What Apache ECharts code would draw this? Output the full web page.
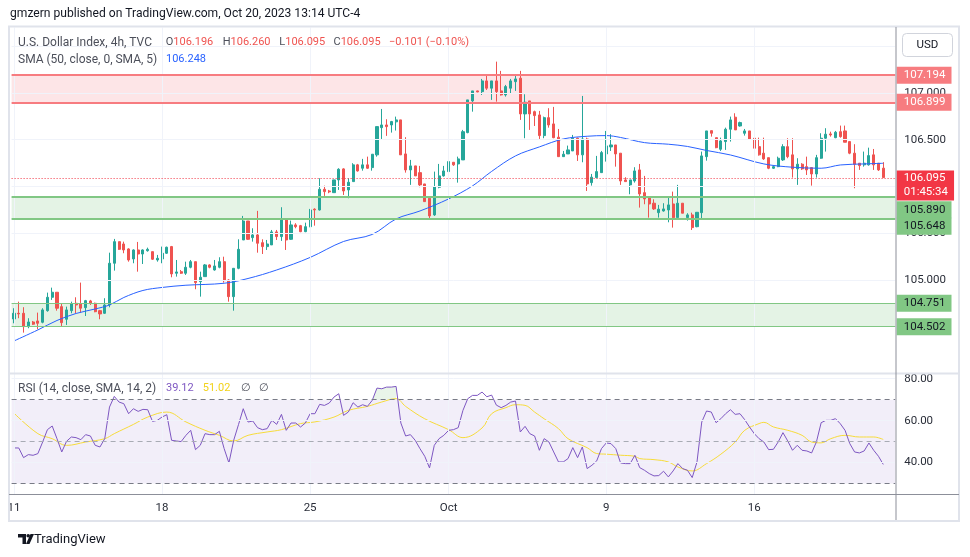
<!DOCTYPE html>
<html><head><meta charset="utf-8">
<script src="https://cdn.jsdelivr.net/npm/echarts/dist/echarts.min.js"></script>
<style>html,body{margin:0;padding:0;background:#fff;}#c{width:970px;height:557px;}</style>
</head><body><div id="c"></div>
<script>
// ---------- DATA ----------
const tickIndex = [0, 31, 62, 91, 124, 155];
const tickText = ['11', '18', '25', 'Oct', '9', '16'];
const categoryCount = 185;

// [open, close, low, high]
const candles = [
[104.583,104.644,104.537,104.698],[104.644,104.637,104.591,104.768],[104.644,104.501,104.437,104.709],[104.501,104.551,104.484,104.591],
[104.551,104.527,104.519,104.562],[104.562,104.537,104.473,104.651],[104.548,104.680,104.537,104.698],[104.672,104.815,104.661,104.865],
[104.815,104.869,104.787,104.918],[104.869,104.698,104.672,104.869],[104.715,104.544,104.508,104.744],[104.580,104.680,104.519,104.715],
[104.672,104.744,104.644,104.768],[104.751,104.733,104.644,104.815],[104.744,104.698,104.651,104.972],[104.704,104.779,104.615,104.787],
[104.776,104.751,104.733,104.787],[104.751,104.661,104.655,104.758],[104.672,104.637,104.580,104.680],[104.644,104.733,104.637,104.805],
[104.733,105.179,104.708,105.292],[105.179,105.410,105.100,105.439],[105.410,105.328,105.321,105.410],[105.385,105.321,105.286,105.410],
[105.332,105.214,105.196,105.339],[105.225,105.321,105.179,105.328],[105.321,105.278,105.089,105.407],[105.278,105.321,105.171,105.328],
[105.313,105.328,105.303,105.346],[105.303,105.222,105.214,105.303],[105.214,105.232,105.196,105.268],[105.225,105.286,105.179,105.357],
[105.286,105.350,105.278,105.357],[105.357,105.065,105.029,105.364],[105.072,105.086,105.036,105.214],[105.089,105.072,105.064,105.107],
[105.072,105.136,105.054,105.196],[105.136,105.196,105.125,105.214],[105.196,104.972,104.901,105.196],[104.982,105.029,104.822,105.089],
[105.036,105.161,105.036,105.171],[105.161,105.136,105.125,105.168],[105.107,105.150,105.100,105.214],[105.136,105.196,105.125,105.243],
[105.196,104.993,104.972,105.249],[105.000,104.822,104.768,105.008],[104.822,105.125,104.672,105.125],[105.125,105.328,105.115,105.435],
[105.428,105.631,105.428,105.685],[105.631,105.435,105.428,105.631],[105.453,105.482,105.410,105.553],[105.482,105.393,105.292,105.739],
[105.399,105.357,105.278,105.435],[105.357,105.385,105.321,105.428],[105.375,105.514,105.375,105.535],[105.514,105.464,105.428,105.535],
[105.464,105.642,105.418,105.778],[105.642,105.428,105.321,105.642],[105.435,105.589,105.428,105.635],[105.589,105.570,105.553,105.607],
[105.581,105.517,105.511,105.589],[105.517,105.570,105.511,105.613],[105.570,105.749,105.564,105.760],[105.757,105.749,105.581,105.767],
[105.749,105.970,105.742,106.088],[105.970,105.945,105.899,106.009],[105.952,105.942,105.928,105.963],[105.934,106.070,105.934,106.070],
[106.070,106.184,105.963,106.195],[106.188,105.952,105.909,106.195],[105.963,106.045,105.874,106.088],[106.052,106.231,106.052,106.249],
[106.231,106.166,106.159,106.241],[106.195,106.231,106.169,106.295],[106.231,106.195,106.188,106.319],[106.202,106.345,106.169,106.345],
[106.338,106.640,106.319,106.640],[106.629,106.658,106.508,106.829],[106.658,106.640,106.541,106.719],[106.658,106.694,106.576,106.701],
[106.691,106.712,106.598,106.747],[106.712,106.338,106.338,106.712],[106.348,106.177,106.148,106.527],[106.177,106.220,106.017,106.284],
[106.220,106.113,106.113,106.220],[106.148,106.017,105.992,106.220],[106.027,105.838,105.838,106.027],[105.874,105.685,105.650,105.874],
[105.696,105.998,105.685,106.159],[105.992,106.113,105.981,106.241],[106.113,106.166,106.105,106.220],[106.159,106.266,106.148,106.284],
[106.259,106.231,106.220,106.259],[106.241,106.295,106.041,106.319],[106.284,106.586,106.284,106.605],[106.576,106.926,106.569,106.926],
[106.915,107.022,106.800,107.022],[107.022,107.011,107.008,107.025],[107.014,107.129,106.979,107.150],[107.129,107.051,107.032,107.200],
[107.051,107.129,106.926,107.129],[107.129,107.014,106.907,107.335],[107.022,106.979,106.972,107.236],[106.979,107.068,106.961,107.086],
[107.051,107.129,106.997,107.150],[107.121,107.150,107.022,107.200],[107.158,106.776,106.712,107.236],[106.776,106.901,106.516,106.986],
[106.915,106.776,106.605,106.915],[106.800,106.758,106.647,106.811],[106.765,106.544,106.508,106.808],[106.544,106.736,106.516,106.747],
[106.736,106.658,106.629,106.837],[106.669,106.522,106.516,106.851],[106.527,106.319,106.319,106.615],[106.319,106.345,106.319,106.380],
[106.348,106.391,106.348,106.437],[106.380,106.516,106.380,106.551],[106.516,106.338,106.273,106.522],[106.338,106.508,106.259,106.968],
[106.508,106.027,105.952,106.522],[106.041,106.099,106.009,106.134],[106.095,106.159,106.088,106.327],[106.148,106.362,106.148,106.380],
[106.348,106.434,106.266,106.594],[106.423,106.444,106.380,106.559],[106.444,106.348,106.212,106.444],[106.356,106.059,106.017,106.356],
[106.070,106.052,106.052,106.099],[106.017,106.070,105.917,106.070],[106.059,106.166,106.041,106.206],[106.177,105.920,105.774,106.241],
[105.934,105.867,105.810,106.113],[105.891,105.813,105.667,105.891],[105.821,105.760,105.749,105.863],[105.720,105.757,105.667,105.803],
[105.738,105.760,105.731,105.821],[105.749,105.803,105.617,105.891],[105.813,105.667,105.560,105.945],[105.667,105.821,105.667,106.017],
[105.821,105.714,105.714,105.821],[105.667,105.696,105.635,105.714],[105.696,105.560,105.535,105.720],[105.570,105.724,105.564,105.724],
[105.720,106.327,105.650,106.373],[106.319,106.594,106.276,106.594],[106.597,106.569,106.533,106.597],[106.522,106.415,106.409,106.522],
[106.398,106.487,106.380,106.522],[106.480,106.612,106.391,106.629],[106.612,106.712,106.480,106.747],[106.741,106.605,106.605,106.783],
[106.647,106.683,106.640,106.693],[106.569,106.594,106.544,106.615],[106.594,106.505,106.498,106.594],[106.516,106.409,106.401,106.533],
[106.426,106.338,106.330,106.522],[106.356,106.295,106.284,106.522],[106.308,106.195,106.185,106.308],[106.195,106.212,106.188,106.220],
[106.212,106.302,106.206,106.319],[106.284,106.426,106.273,106.452],[106.426,106.319,106.302,106.516],[106.338,106.188,106.095,106.516],
[106.188,106.238,106.017,106.302],[106.238,106.188,106.177,106.249],[106.212,106.177,106.123,106.319],[106.202,106.134,106.009,106.202],
[106.134,106.308,106.095,106.338],[106.302,106.516,106.295,106.569],[106.516,106.559,106.373,106.623],[106.562,106.551,106.533,106.586],
[106.522,106.580,106.516,106.594],[106.586,106.533,106.522,106.651],[106.594,106.473,106.473,106.651],[106.480,106.356,106.345,106.480],
[106.356,106.238,105.981,106.452],[106.249,106.223,106.177,106.249],[106.231,106.249,106.212,106.373],[106.231,106.330,106.223,106.415],
[106.338,106.231,106.177,106.401],[106.249,106.177,106.166,106.249],[106.196,106.095,106.095,106.260]
];

// SMA(50) read at selected candles: [candleIndex, value]
const smaPoints = [
[0,104.348],[5,104.466],[9,104.567],[13,104.642],[17,104.690],[20,104.733],[23,104.813],[27,104.888],[31,104.920],
[36,104.944],[44,104.965],[49,105.016],[55,105.107],[62,105.241],[69,105.412],[75,105.487],[80,105.653],[85,105.738],
[91,105.867],[96,106.006],[100,106.161],[105,106.327],[110,106.423],[115,106.508],[120,106.537],[124,106.544],[127,106.524],
[132,106.469],[137,106.452],[141,106.428],[145,106.385],[150,106.337],[157,106.241],[163,106.206],[169,106.195],[173,106.230],
[178,106.241],[182,106.248]
];

// RSI(14) per candle
const rsi = [
46.97,46.97,42.36,43.79,43.47,44.27,49.82,55.7,57.44,51.41,45.06,50.14,52.2,51.89,50.93,53.32,52.68,48.24,47.44,51.41,
66.49,71.57,68.87,68.08,63.32,65.7,64.43,65.38,65.22,59.66,60.14,61.73,62.84,50.62,50.3,50.0,53.0,55.38,46.17,48.24,
53.79,53.32,53.32,54.9,46.65,39.82,50.62,58.08,65.7,59.35,59.82,56.65,55.7,56.17,60.14,58.24,63.0,55.38,58.87,58.87,
56.97,58.87,63.32,63.32,67.76,67.28,68.4,71.25,72.84,62.52,64.11,68.55,66.49,67.6,66.81,69.66,75.54,75.22,76.01,76.01,
76.33,58.87,52.68,53.32,50.62,46.65,43.0,37.44,48.24,51.41,53.0,55.38,55.7,56.65,64.9,70.46,72.05,72.05,73.63,71.4,
72.2,67.4,66.2,67.28,68.87,69.35,54.59,57.28,53.79,52.68,45.86,51.41,49.82,45.06,40.3,40.3,41.89,47.13,42.36,47.44,
37.13,38.71,40.78,46.65,49.35,49.03,46.65,39.82,39.5,39.5,43.47,37.6,36.33,34.75,33.63,33.79,35.86,33.16,36.0,39.5,
37.13,36.33,32.84,40.3,59.35,64.6,64.11,59.03,60.94,63.32,65.22,63.0,63.32,60.46,56.97,53.79,51.41,49.82,46.17,46.33,
49.82,54.27,50.3,45.86,48.24,45.86,45.54,44.59,49.82,59.03,60.14,60.14,60.94,58.55,55.38,49.03,45.06,44.59,45.54,49.35,
45.86,43.0,39.12
];

// RSI-based SMA read at selected candles: [candleIndex, value]
const rsiMaPoints = [
[0,63.6],[5,53.8],[8,51.4],[11,48.2],[15,49.8],[19,51.4],[21,53.8],[25,58.2],[28,61.7],[32,64.1],[36,59.4],[40,55.4],
[43,53.0],[46,50.3],[49,53.0],[53,54.6],[56,55.7],[60,58.6],[63,59.4],[67,61.7],[70,64.9],[74,66.8],[77,68.9],[80,70.5],
[82,66.8],[86,60.9],[91,55.7],[94,51.9],[98,56.5],[100,63.3],[103,66.2],[105,67.6],[107,67.3],[109,64.1],[111,60.9],
[114,56.2],[116,51.4],[120,47.1],[122,44.3],[124,44.0],[127,43.5],[130,43.0],[131,41.9],[134,41.4],[137,40.3],[139,37.9],
[142,36.0],[145,39.5],[148,44.0],[151,49.8],[153,55.4],[156,58.6],[157,59.2],[159,57.0],[162,55.4],[165,53.0],[167,49.8],
[169,49.4],[171,51.4],[174,53.0],[177,52.2],[180,52.2],[182,51.02]
];

const priceGrid = [104.5, 105, 105.5, 106, 106.5, 107, 107.5];
const priceLabels = [104.5, 105, 105.5, 106, 106.5, 107];
const rsiGrid = [40, 60, 80];
const resistanceZone = [106.899, 107.194];
const supportZoneA = [105.648, 105.890];
const supportZoneB = [104.502, 104.751];
const lastPrice = 106.095;
const countdown = '01:45:34';

// ---------- CHART ----------
const FONT = 'Roboto';
const xData = Array.from({length: categoryCount}, (_, i) => {
  const k = tickIndex.indexOf(i); return k >= 0 ? tickText[k] : '';
});
const nulls = Array.from({length: categoryCount}, () => null);
const GRID_COLOR = '#f0f3fa';

function tag(text, bg, fg, offsetY) {
  return {show: true, position: 'end', distance: 1.5, formatter: text, color: fg, backgroundColor: bg,
    padding: [2, 6, 1, 7], fontSize: 11.5, fontFamily: FONT, lineHeight: 14, offset: [0, offsetY || 0]};
}
function zoneLine(v, color, w, bg, fg, off) {
  return {yAxis: v, lineStyle: {color: color, width: w, type: 'solid'}, label: tag(v.toFixed(3), bg, fg, off)};
}
const LF = '11px Roboto';
const TF = '12px Roboto';
function kv(k, v) {
  return {text: '{k|' + k + '}{v|' + v + '}', rich: {k: {fill: '#4c4f5a', font: LF}, v: {fill: '#ef5350', font: LF}}, textVerticalAlign: 'middle'};
}

const chart = echarts.init(document.getElementById('c'), null, {renderer: 'canvas'});
const option = {
  animation: false,
  backgroundColor: '#ffffff',
  grid: [
    {left: 11.6, top: 27.5, width: 883.6, height: 346},
    {left: 11.6, top: 373.5, width: 883.6, height: 120.5}
  ],
  xAxis: [
    {type: 'category', gridIndex: 0, data: xData, boundaryGap: true,
     axisLine: {show: false}, axisTick: {show: false}, axisLabel: {show: false}, splitLine: {show: false}},
    {type: 'category', gridIndex: 1, data: xData, boundaryGap: true,
     axisLine: {show: false}, axisTick: {show: false}, splitLine: {show: false},
     axisLabel: {show: true, interval: (i, v) => v !== '', margin: 8, color: '#2a2e39', fontSize: 11.5, fontFamily: FONT, hideOverlap: false}}
  ],
  yAxis: [
    {type: 'value', gridIndex: 0, position: 'right', min: 104.0, max: 107.7, interval: 0.5, scale: true,
     axisLine: {show: false}, axisTick: {show: false}, splitLine: {show: false},
     axisLabel: {margin: 9, color: '#2a2e39', fontSize: 11.5, fontFamily: FONT,
       formatter: v => priceLabels.some(p => Math.abs(p - v) < 1e-6) ? v.toFixed(3) : ''}},
    {type: 'value', gridIndex: 1, position: 'right', min: 25, max: 82.5, interval: 5,
     axisLine: {show: false}, axisTick: {show: false}, splitLine: {show: false},
     axisLabel: {margin: 9, color: '#2a2e39', fontSize: 11.5, fontFamily: FONT,
       formatter: v => rsiGrid.some(p => Math.abs(p - v) < 1e-6) ? v.toFixed(2) : ''}}
  ],
  series: [
    {type: 'line', xAxisIndex: 0, yAxisIndex: 0, data: nulls, z: 0, silent: true, symbol: 'none',
     markLine: {silent: true, symbol: ['none', 'none'], label: {show: false}, animation: false,
       lineStyle: {color: GRID_COLOR, width: 1, type: 'solid'},
       data: priceGrid.map(v => ({yAxis: v})).concat(tickIndex.map(i => ({xAxis: i})))}},
    {type: 'line', xAxisIndex: 0, yAxisIndex: 0, data: nulls, z: 1, silent: true, symbol: 'none',
     markArea: {silent: true, data: [
       [{yAxis: resistanceZone[0], itemStyle: {color: 'rgba(242,54,69,0.13)'}}, {yAxis: resistanceZone[1]}],
       [{yAxis: supportZoneA[0], itemStyle: {color: 'rgba(76,175,80,0.15)'}}, {yAxis: supportZoneA[1]}],
       [{yAxis: supportZoneB[0], itemStyle: {color: 'rgba(76,175,80,0.15)'}}, {yAxis: supportZoneB[1]}]
     ]},
     markLine: {silent: true, symbol: ['none', 'none'], animation: false, data: [
       zoneLine(resistanceZone[1], '#f77c80', 2, '#f77c80', '#ffffff', 0),
       zoneLine(resistanceZone[0], '#f77c80', 2, '#f77c80', '#ffffff', 0),
       zoneLine(supportZoneA[1], '#81c784', 2, '#81c784', '#131722', 13),
       zoneLine(supportZoneA[0], '#81c784', 2, '#81c784', '#131722', 7),
       zoneLine(supportZoneB[1], '#81c784', 1.2, '#81c784', '#131722', 0),
       zoneLine(supportZoneB[0], '#81c784', 1.2, '#81c784', '#131722', 0),
       {yAxis: lastPrice, lineStyle: {color: '#f23645', width: 1, type: [1, 2]},
        label: Object.assign(tag(lastPrice.toFixed(3) + '\n' + countdown, '#f23645', '#ffffff', 7.5), {padding: [1, 6, 1, 7]})}
     ]}},
    {type: 'candlestick', xAxisIndex: 0, yAxisIndex: 0, data: candles, z: 3, barWidth: 2.6,
     itemStyle: {color: '#26a69a', color0: '#ef5350', borderColor: '#26a69a', borderColor0: '#ef5350', borderWidth: 1}},
    {type: 'line', xAxisIndex: 0, yAxisIndex: 0, data: smaPoints, z: 4, symbol: 'none', smooth: 0.35,
     connectNulls: true, lineStyle: {color: '#2962ff', width: 1}},
    {type: 'line', xAxisIndex: 1, yAxisIndex: 1, data: nulls, z: 0, silent: true, symbol: 'none',
     markArea: {silent: true, data: [[{yAxis: 30, itemStyle: {color: 'rgba(126,87,194,0.1)'}}, {yAxis: 70}]]},
     markLine: {silent: true, symbol: ['none', 'none'], label: {show: false}, animation: false,
       lineStyle: {color: GRID_COLOR, width: 1, type: 'solid'},
       data: rsiGrid.map(v => ({yAxis: v})).concat(tickIndex.map(i => ({xAxis: i})))}},
    {type: 'line', xAxisIndex: 1, yAxisIndex: 1, data: nulls, z: 1, silent: true, symbol: 'none',
     markLine: {silent: true, symbol: ['none', 'none'], label: {show: false}, animation: false, data: [
       {yAxis: 70, lineStyle: {color: '#787b86', width: 1, type: [5, 4]}},
       {yAxis: 50, lineStyle: {color: '#a8abb4', width: 1, type: [5, 4]}},
       {yAxis: 30, lineStyle: {color: '#787b86', width: 1, type: [5, 4]}}
     ]}},
    {type: 'line', xAxisIndex: 1, yAxisIndex: 1, z: 2, symbol: 'none', silent: true,
     data: rsi.map((v, i) => (i >= 75 && i <= 80) ? [i, Math.max(v, 70)] : null).filter(Boolean),
     lineStyle: {width: 0}, areaStyle: {color: 'rgba(76,175,80,0.18)', origin: 70}},
    {type: 'line', xAxisIndex: 1, yAxisIndex: 1, data: rsiMaPoints, z: 3, symbol: 'none', smooth: 0.4,
     lineStyle: {color: '#f7dc3a', width: 1}},
    {type: 'line', xAxisIndex: 1, yAxisIndex: 1, data: rsi, z: 4, symbol: 'none',
     lineStyle: {color: '#7e57c2', width: 1}}
  ],
  graphic: [
    {type: 'rect', shape: {x: 9, y: 26.5, width: 950, height: 494.5}, style: {fill: 'none', stroke: '#e0e3eb', lineWidth: 2}, z: 50, silent: true},
    {type: 'line', shape: {x1: 9, y1: 373.5, x2: 959, y2: 373.5}, style: {stroke: '#e0e3eb', lineWidth: 2}, z: 50, silent: true},
    {type: 'line', shape: {x1: 9, y1: 494.5, x2: 959, y2: 494.5}, style: {stroke: '#8c8f99', lineWidth: 1}, z: 50, silent: true},
    {type: 'line', shape: {x1: 896, y1: 27, x2: 896, y2: 520}, style: {stroke: '#8c8f99', lineWidth: 1}, z: 50, silent: true},
    {type: 'text', left: 10, top: 8, style: {text: 'gmzern published on TradingView.com, Oct 20, 2023 13:14 UTC-4', fill: '#131722', font: '12.1px Roboto'}, z: 60},
    {type: 'rect', shape: {x: 902.5, y: 33.5, width: 50, height: 23, r: 4}, style: {fill: '#fff', stroke: '#d1d4dc', lineWidth: 1}, z: 60},
    {type: 'text', x: 927.5, y: 45, style: {text: 'USD', fill: '#131722', font: '11.5px Roboto', textAlign: 'center', textVerticalAlign: 'middle'}, z: 61},
    {type: 'text', x: 18, y: 42.5, style: {text: 'U.S. Dollar Index, 4h, TVC', fill: '#4c4f5a', font: TF, textVerticalAlign: 'middle'}, z: 60},
    {type: 'text', x: 165.7, y: 42.5, style: kv('O', '106.196'), z: 60},
    {type: 'text', x: 222.7, y: 42.5, style: kv('H', '106.260'), z: 60},
    {type: 'text', x: 279.3, y: 42.5, style: kv('L', '106.095'), z: 60},
    {type: 'text', x: 333.5, y: 42.5, style: kv('C', '106.095'), z: 60},
    {type: 'text', x: 389, y: 42.5, style: {text: '\u22120.101 (\u22120.10%)', fill: '#ef5350', font: LF, textVerticalAlign: 'middle'}, z: 60},
    {type: 'text', x: 18, y: 59.5, style: {text: 'SMA (50, close, 0, SMA, 5)', fill: '#4c4f5a', font: TF, textVerticalAlign: 'middle'}, z: 60},
    {type: 'text', x: 166, y: 59.5, style: {text: '106.248', fill: '#2962ff', font: LF, textVerticalAlign: 'middle'}, z: 60},
    {type: 'text', x: 18, y: 388.5, style: {text: 'RSI (14, close, SMA, 14, 2)', fill: '#4c4f5a', font: TF, textVerticalAlign: 'middle'}, z: 60},
    {type: 'text', x: 166, y: 388.5, style: {text: '39.12', fill: '#7e57c2', font: LF, textVerticalAlign: 'middle'}, z: 60},
    {type: 'text', x: 202.7, y: 388.5, style: {text: '51.02', fill: '#f2d21a', font: LF, textVerticalAlign: 'middle'}, z: 60},
    {type: 'text', x: 240.7, y: 388.5, style: {text: '\u2205   \u2205', fill: '#4c4f5a', font: LF, textVerticalAlign: 'middle'}, z: 60},
    {type: 'rect', shape: {x: 18, y: 534, width: 8, height: 3.5}, style: {fill: '#131722'}, z: 60},
    {type: 'rect', shape: {x: 22.5, y: 534, width: 3.5, height: 10}, style: {fill: '#131722'}, z: 60},
    {type: 'circle', shape: {cx: 28.2, cy: 535.8, r: 1.8}, style: {fill: '#131722'}, z: 60},
    {type: 'polygon', shape: {points: [[30.5, 534], [34, 534], [29.5, 544], [26, 544]]}, style: {fill: '#131722'}, z: 60},
    {type: 'text', x: 34, y: 539.5, style: {text: 'TradingView', fill: '#131722', font: '13px Roboto', textVerticalAlign: 'middle'}, z: 60}
  ]
};
chart.setOption(option);
</script>
</body></html>
